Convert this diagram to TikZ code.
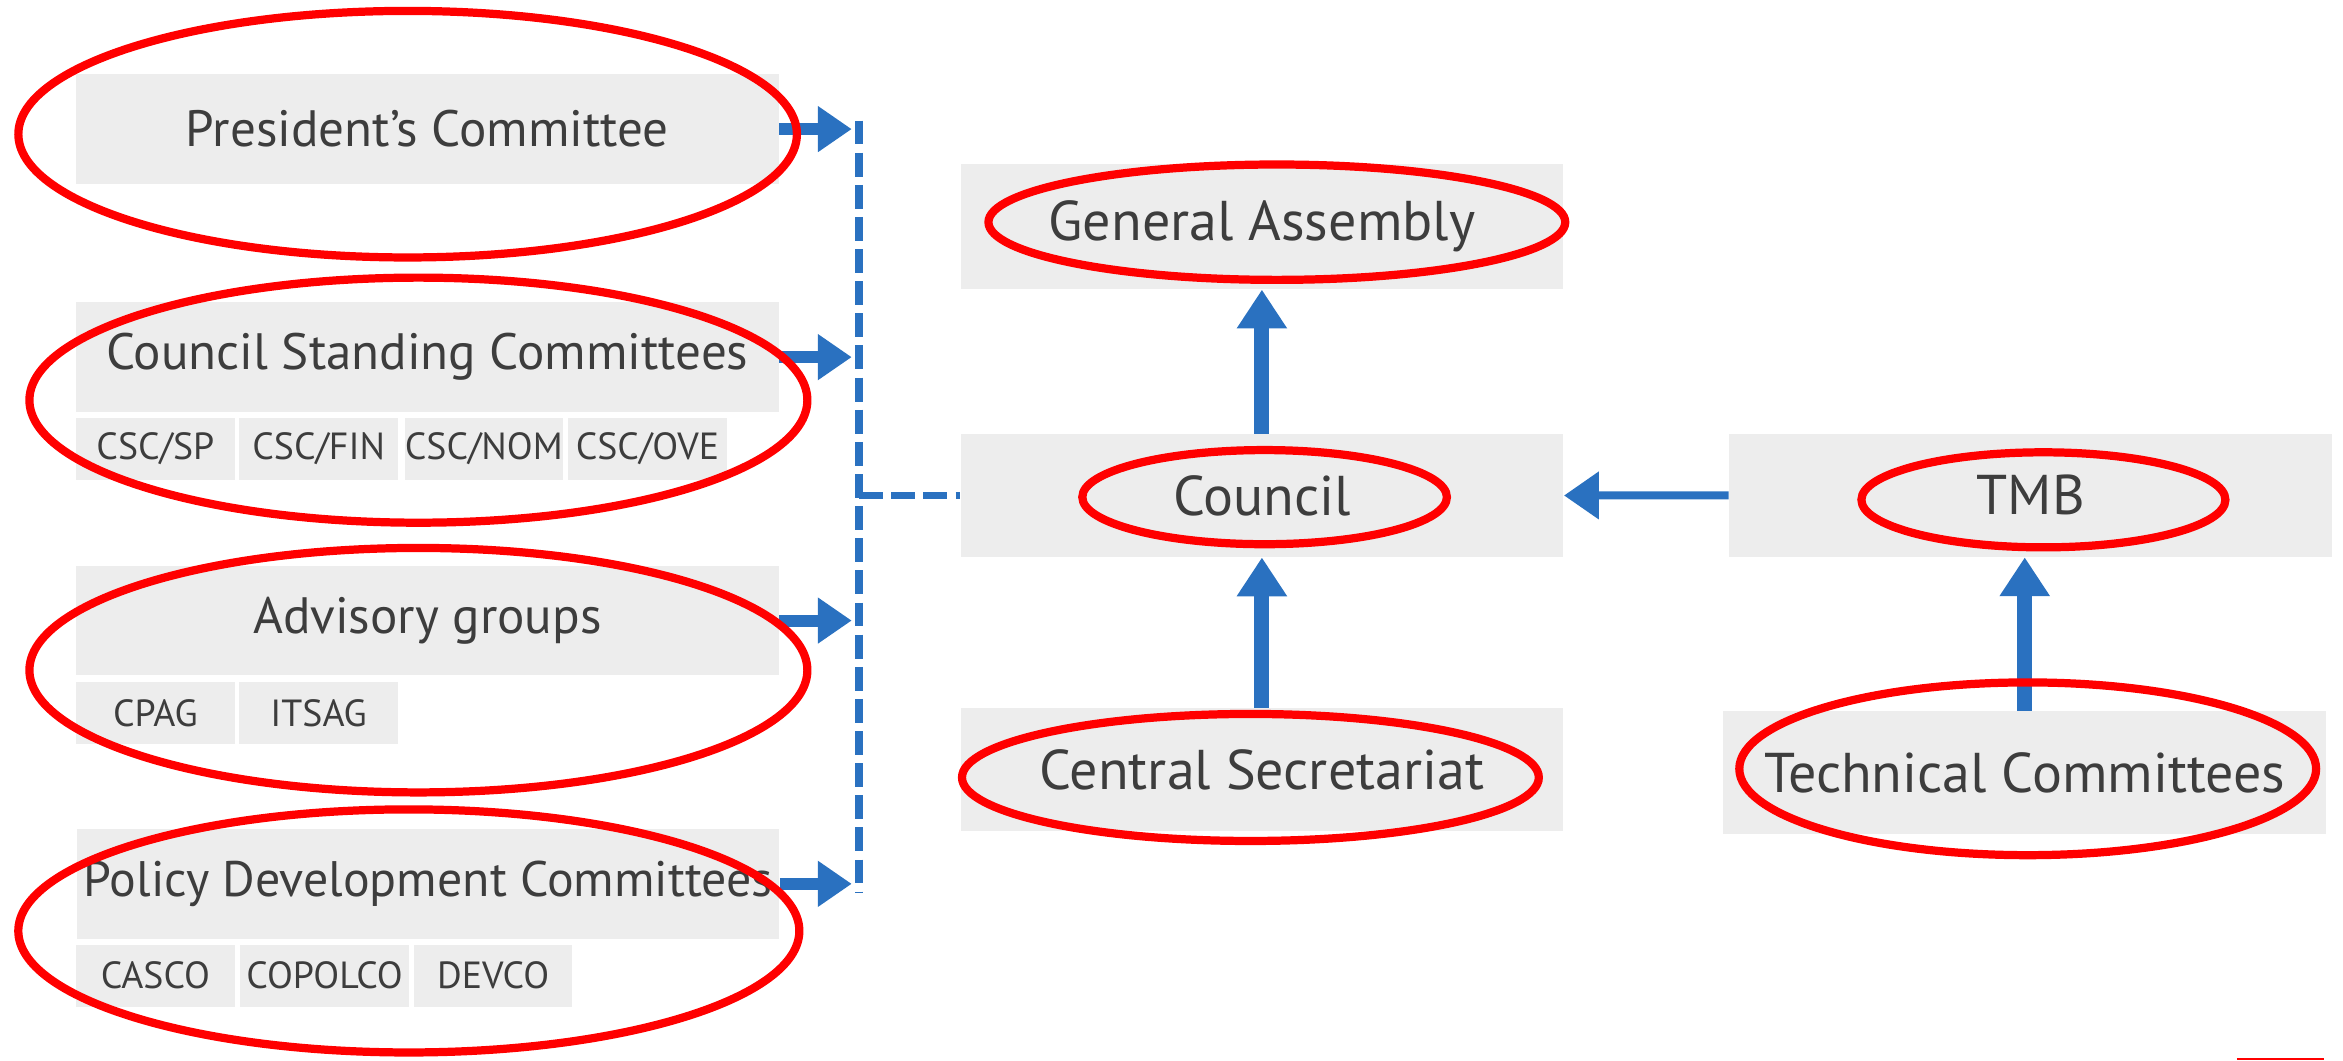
\documentclass[tikz,border=0pt]{standalone}
\usepackage{fontspec}
\setmainfont{PT Sans}
\usetikzlibrary{arrows.meta}
\definecolor{boxgray}{HTML}{EDEDED}
\definecolor{txtgray}{HTML}{3D3D3D}
\definecolor{isoblue}{HTML}{2A71C0}
\definecolor{markred}{HTML}{FF0000}
\begin{document}
\begin{tikzpicture}[x=0.015cm, y=-0.015cm,
  titlebox/.style={fill=boxgray, text=txtgray, inner sep=0pt,
    minimum width=7.05cm, minimum height=1.1025cm,
    font=\fontsize{14.6}{16}\selectfont},
  subbox/.style={fill=boxgray, text=txtgray, inner sep=0pt,
    minimum width=1.59cm, minimum height=0.6255cm,
    font=\fontsize{10.8}{12}\selectfont},
  mainbox/.style={fill=boxgray, text=txtgray, inner sep=0pt,
    minimum width=6.05cm, minimum height=1.23cm,
    font=\fontsize{16}{18}\selectfont},
  redring/.style={draw=markred, line width=2.35pt},
  busline/.style={draw=isoblue, line width=0.08cm, dash pattern=on 0.24cm off 0.0825cm},
  leftarrow/.style={draw=isoblue, line width=0.12cm, -{Triangle[length=0.34cm, width=0.44cm]}},
  vertarrow/.style={draw=isoblue, line width=0.15cm, -{Triangle[length=0.39cm, width=0.48cm]}},
  horarrow/.style={draw=isoblue, line width=0.08cm, -{Triangle[length=0.35cm, width=0.46cm]}}
]
\useasboundingbox (0,0) rectangle (1568,709.4);

% left column
\node[titlebox] (pres) at (286,86.4) {President’s Committee};
\node[titlebox] (csc) at (286,239) {Council Standing Committees};
\node[subbox] (sp) at (104,300.5) {CSC/SP};
\node[subbox] (fin) at (213.25,300.5) {CSC/FIN};
\node[subbox] (nom) at (323.75,300.5) {CSC/NOM};
\node[subbox] (ove) at (433.25,300.5) {CSC/OVE};
\node[titlebox] (adv) at (286,415.3) {Advisory groups};
\node[subbox] (cpag) at (104,477) {CPAG};
\node[subbox] (itsag) at (213.25,477) {ITSAG};
\node[titlebox, font=\fontsize{14.25}{16}\selectfont] (pdc) at (286.5,591.5) {Policy Development Committees};
\node[subbox] (casco) at (104,653) {CASCO};
\node[subbox, minimum width=1.7cm] (copolco) at (217.25,653) {COPOLCO};
\node[subbox] (devco) at (330,653) {DEVCO};

% centre and right
\node[mainbox, minimum height=1.25cm] (ga) at (844.5,151.7) {General Assembly};
\node[mainbox] (council) at (844.5,331.6) {Council};
\node[mainbox] (cs) at (844.5,515) {Central Secretariat};
\node[mainbox] (tmb) at (1359,331.5) {TMB};
\node[mainbox] (tc) at (1355,517) {Technical Committees};

% bus
\coordinate (bustop) at (575,80.7);
\coordinate (busbot) at (575,597.4);
\coordinate (tipx) at (570,0);
\draw[busline] (bustop) -- (busbot);
\draw[busline] (council.west -| bustop) -- (council.west);

\draw[leftarrow] (pres.east) -- (pres.east -| tipx);
\draw[leftarrow] (csc.east) -- (csc.east -| tipx);
\draw[leftarrow] (adv.east) -- (adv.east -| tipx);
\draw[leftarrow] (pdc.east) -- (pdc.east -| tipx);

\draw[vertarrow] (council.north) -- (ga.south);
\draw[vertarrow] (cs.north) -- (council.south);
\draw[vertarrow] (tc.north) -- (tc.north |- tmb.south);
\draw[horarrow] (tmb.west) -- (council.east);

% red markings
\draw[redring] (272.8,89.8) ellipse [x radius=3.9075cm, y radius=1.2375cm];
\draw[redring] (280,267.8) ellipse [x radius=3.9045cm, y radius=1.23cm];
\draw[redring] (280,448.5) ellipse [x radius=3.9045cm, y radius=1.227cm];
\draw[redring] (273.6,623) ellipse [x radius=3.92cm, y radius=1.22cm];
\draw[redring] (854.5,148.7) ellipse [x radius=2.895cm, y radius=0.579cm];
\draw[redring] (846.3,332.7) ellipse [x radius=1.83cm, y radius=0.4725cm];
\draw[redring] (836.8,520.3) ellipse [x radius=2.895cm, y radius=0.6375cm];
\draw[redring] (1367.5,334.5) ellipse [x radius=1.827cm, y radius=0.477cm];
\draw[redring] (1357,514.5) ellipse [x radius=2.895cm, y radius=0.867cm];
\draw[draw=markred, line width=0.025cm] (1497,708.6) -- (1555,708.6);
\end{tikzpicture}
\end{document}
